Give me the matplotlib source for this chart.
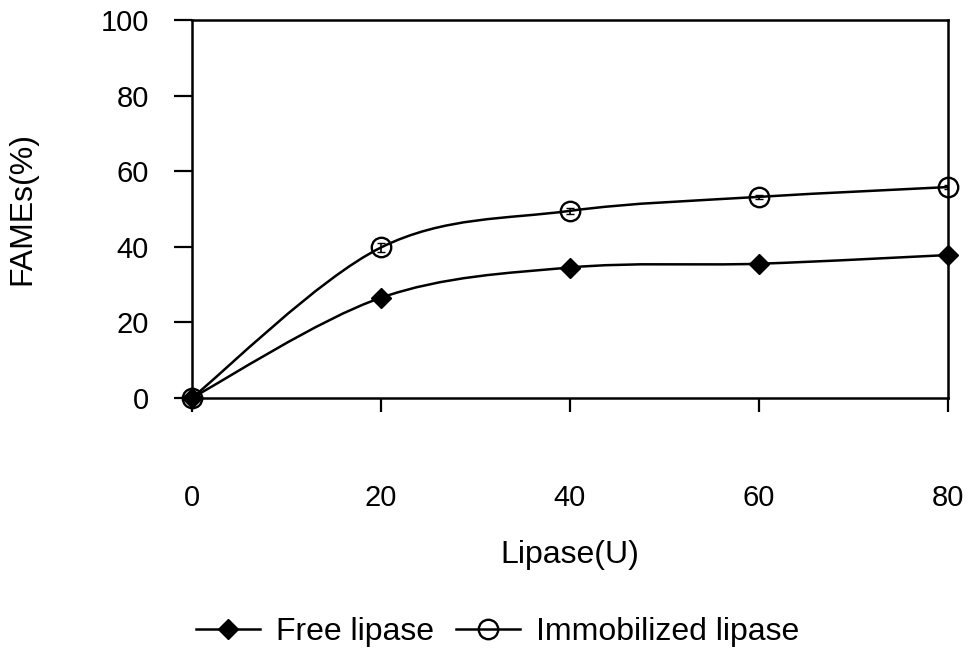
import matplotlib
matplotlib.use("Agg")
import matplotlib.pyplot as plt
from matplotlib.path import Path
from matplotlib.patches import PathPatch
from matplotlib.lines import Line2D
import numpy as np

plt.rcParams["font.family"] = ["Liberation Sans", "DejaVu Sans"]

lipase = [0, 20, 40, 60, 80]
free_fames = [0, 26.5, 34.5, 35.5, 37.8]
free_err = [0, 1.5, 0.8, 0.6, 0.6]
immob_fames = [0, 39.8, 49.5, 53.2, 55.8]
immob_err = [0, 1.2, 0.8, 0.6, 0.6]
x_ticks = [0, 20, 40, 60, 80]
y_ticks = [0, 20, 40, 60, 80, 100]


def smooth_path(x, y):
    """Excel-style smoothed line: Catmull-Rom as cubic Bezier segments."""
    pts = np.column_stack([x, y]).astype(float)
    n = len(pts)
    verts = [pts[0]]
    codes = [Path.MOVETO]
    for i in range(n - 1):
        p0 = pts[i - 1] if i > 0 else pts[i]
        p1, p2 = pts[i], pts[i + 1]
        p3 = pts[i + 2] if i + 2 < n else pts[i + 1]
        c1 = p1 + (p2 - p0) / 6
        c2 = p2 - (p3 - p1) / 6
        verts += [c1, c2, p2]
        codes += [Path.CURVE4] * 3
    return Path(verts, codes)


fig = plt.figure(figsize=(9.7, 6.5), dpi=100)
ax = fig.add_axes([0.198, 0.388, 0.779, 0.581])

for ys in (free_fames, immob_fames):
    ax.add_patch(PathPatch(smooth_path(lipase, ys), fill=False, lw=1.8,
                           edgecolor="black", zorder=2))

ax.errorbar(lipase, free_fames, yerr=free_err, fmt="none", ecolor="black",
            elinewidth=1.2, capsize=3, zorder=3)
ax.errorbar(lipase, immob_fames, yerr=immob_err, fmt="none", ecolor="black",
            elinewidth=1.2, capsize=3, zorder=3)
ax.plot(lipase, free_fames, ls="none", marker="D", ms=10.5, color="black",
        clip_on=False, zorder=4)
ax.plot(lipase, immob_fames, ls="none", marker="o", ms=14, mfc="none",
        mec="black", mew=1.7, clip_on=False, zorder=4)

ax.set_xlim(0, 80)
ax.set_ylim(0, 100)
ax.set_xticks(x_ticks)
ax.set_yticks(y_ticks)
ax.tick_params(axis="x", direction="out", length=10, width=1.6, pad=52,
               labelsize=21)
ax.tick_params(axis="y", direction="out", length=13, width=1.6, pad=18,
               labelsize=21)
for s in ax.spines.values():
    s.set_linewidth(1.8)

ax.set_xlabel("Lipase(U)", fontsize=23, labelpad=20)
ax.set_ylabel("FAMEs(%)", fontsize=23)
ax.yaxis.set_label_coords(-0.205, 0.5)

handles = [
    Line2D([], [], color="black", lw=1.8, marker="D", ms=10.5),
    Line2D([], [], color="black", lw=1.8, marker="o", ms=14, mfc="none",
           mew=1.7),
]
fig.legend(handles, ["Free lipase", "Immobilized lipase"], loc="center",
           bbox_to_anchor=(0.513, 0.028), ncol=2, frameon=False,
           fontsize=23, handlelength=2.0, handletextpad=0.5,
           columnspacing=0.7)

fig.savefig("out.png", dpi=100)
